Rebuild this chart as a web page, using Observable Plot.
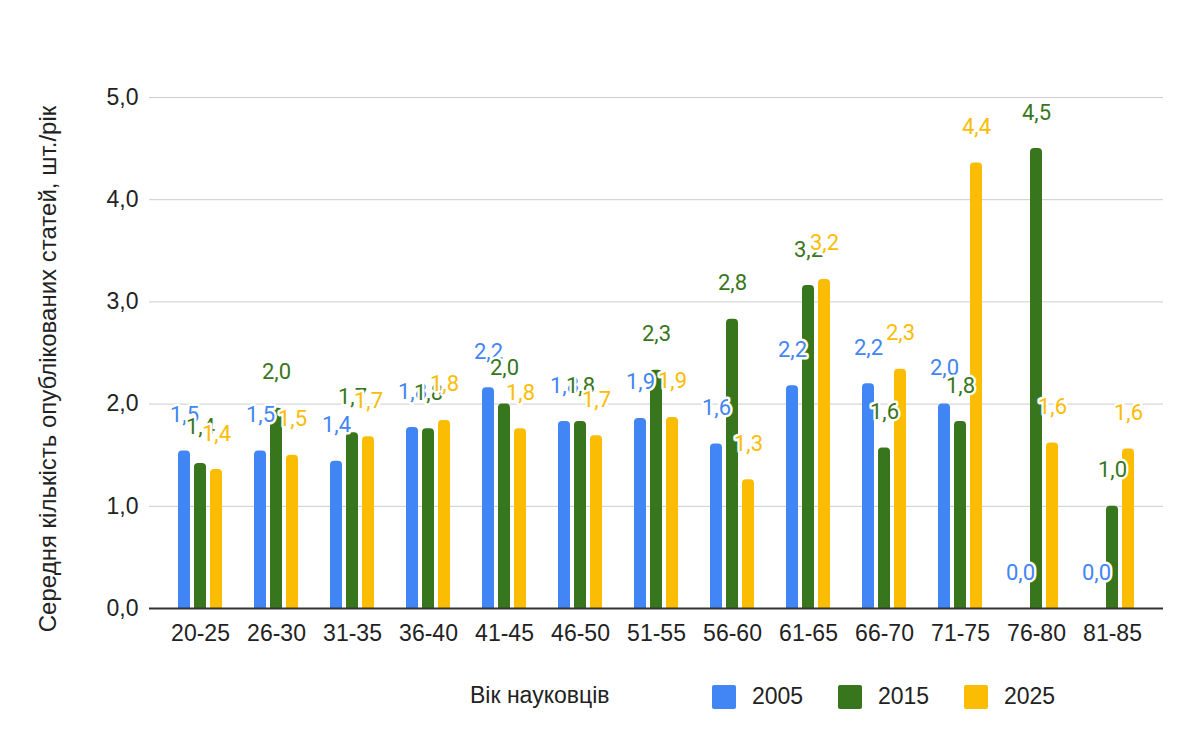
<!DOCTYPE html>
<html>
<head>
<meta charset="utf-8">
<script src="https://cdn.jsdelivr.net/npm/d3@7"></script>
<script src="https://cdn.jsdelivr.net/npm/@observablehq/plot@0.6"></script>
<style>
  html, body { margin: 0; padding: 0; background: #fff; }
  #chart { width: 1200px; }
  .legend { position: relative; height: 74px; width: 1200px; font-family: "Liberation Sans", Arial, sans-serif; font-size: 23px; color: #222; }
  .legend .title { position: absolute; left: 470px; top: 14px; line-height: 26px; }
  .legend .items { position: absolute; left: 712px; top: 15px; display: flex; }
  .legend .item { display: flex; align-items: center; width: 126px; }
  .legend .sw { width: 24px; height: 24px; border-radius: 2px; margin-right: 16px; }
</style>
</head>
<body>
<div id="chart"></div>
<div class="legend" id="legend"></div>
<script>
const ageGroups = ["20-25","26-30","31-35","36-40","41-45","46-50","51-55","56-60","61-65","66-70","71-75","76-80","81-85"];
const years = ["2005","2015","2025"];
const values2005 = [1.54, 1.54, 1.44, 1.77, 2.16, 1.83, 1.86, 1.61, 2.18, 2.20, 2.00, 0.0, 0.0];
const values2015 = [1.42, 1.96, 1.72, 1.76, 2.00, 1.83, 2.33, 2.83, 3.16, 1.57, 1.83, 4.50, 1.00];
const values2025 = [1.36, 1.50, 1.68, 1.84, 1.76, 1.69, 1.87, 1.26, 3.22, 2.34, 4.36, 1.62, 1.56];
const yTicks = [0, 1, 2, 3, 4, 5];
const colors = ["#4285F4", "#38761D", "#FBBC04"];
const xTitle = "Вік науковців";
const yTitle = "Середня кількість опублікованих статей, шт./рік";

const seriesValues = [values2005, values2015, values2025];
const offsets = [-16, 0, 16];
const fmt = v => v.toFixed(1).replace(".", ",");

const seriesData = years.map((yr, j) => ageGroups.map((g, i) => ({group: g, year: yr, value: seriesValues[j][i]})));

const barMarks = seriesData.map((d, j) => Plot.barY(d, {
  x: "group", y: "value", fill: "year", dx: offsets[j],
  insetLeft: 32, insetRight: 32, ry1: 4
}));
const textMarks = seriesData.map((d, j) => Plot.text(d, {
  x: "group", y: "value", text: d => fmt(d.value), fill: "year", dx: offsets[j], dy: -36,
  stroke: "white", strokeWidth: 5, fontFamily: "Roboto", fontSize: 22, lineAnchor: "middle"
}));

const chart = Plot.plot({
  width: 1200,
  height: 668,
  marginLeft: 149,
  marginRight: 37,
  marginTop: 97,
  marginBottom: 60,
  style: {fontFamily: "'Liberation Sans', Arial, sans-serif", fontSize: "23px", color: "#222", background: "#fff"},
  x: {domain: ageGroups, paddingInner: 0, paddingOuter: 0.171, label: null},
  y: {domain: [0, 5], label: null},
  color: {domain: years, range: colors},
  marks: [
    Plot.gridY(yTicks, {stroke: "#cccccc", strokeOpacity: 1, strokeWidth: 1}),
    Plot.axisY(yTicks, {tickSize: 0, tickPadding: 11, tickFormat: fmt, label: null, fontSize: 23}),
    Plot.axisX({tickSize: 0, tickPadding: 16, label: null, fontSize: 23}),
    Plot.text([yTitle], {frameAnchor: "left", rotate: -90, dx: -111, dy: 16, textAnchor: "middle", lineAnchor: "top", fontSize: 24, fill: "#222"}),
    ...barMarks,
    Plot.ruleY([0], {stroke: "#333333", strokeWidth: 2}),
    ...textMarks
  ]
});
document.getElementById("chart").appendChild(chart);

const legend = document.getElementById("legend");
const t = document.createElement("div");
t.className = "title";
t.textContent = xTitle;
legend.appendChild(t);
const items = document.createElement("div");
items.className = "items";
years.forEach((yr, j) => {
  const it = document.createElement("div");
  it.className = "item";
  const sw = document.createElement("div");
  sw.className = "sw";
  sw.style.background = colors[j];
  const lb = document.createElement("span");
  lb.textContent = yr;
  it.appendChild(sw);
  it.appendChild(lb);
  items.appendChild(it);
});
legend.appendChild(items);
</script>
</body>
</html>
